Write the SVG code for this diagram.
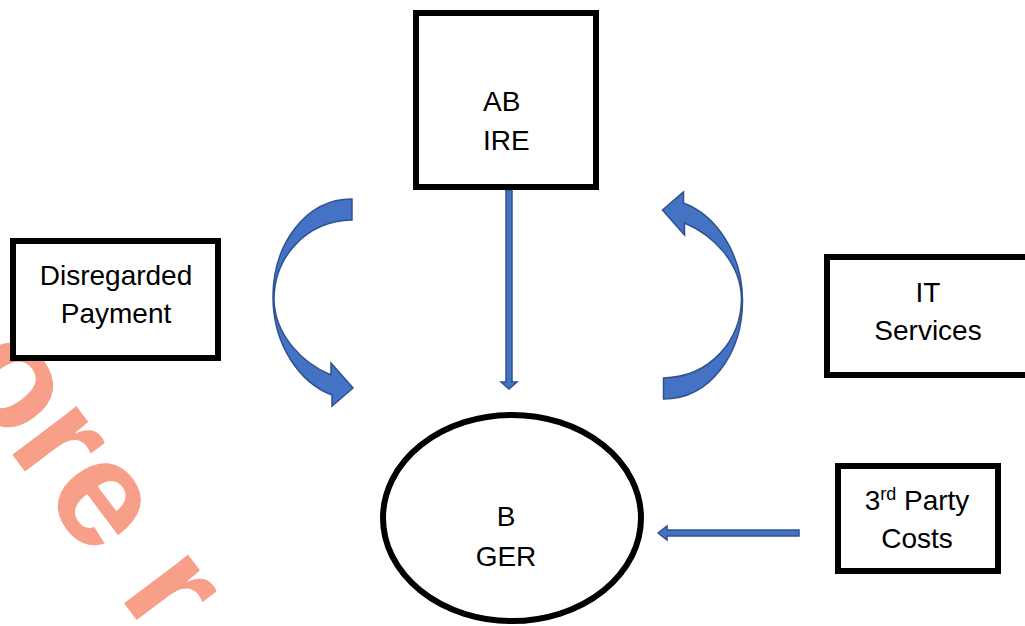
<svg xmlns="http://www.w3.org/2000/svg" width="1025" height="626" viewBox="0 0 1025 626">
  <style>
    .box { fill: #ffffff; stroke: #000000; stroke-width: 6; }
    .lbl { font-family: "Liberation Sans", Arial, sans-serif; font-size: 28px; fill: #000000; }
    .flow { fill: #4472C4; stroke: #2F528F; stroke-width: 1.5; stroke-linejoin: miter; }
    .mark { font-family: "Liberation Sans", Arial, sans-serif; font-weight: bold; font-size: 152px; fill: #F7957C; opacity: 0.9; }
  </style>
  <defs>
    <!-- curved block arrow sweeping left, arrowhead pointing right -->
    <path id="curved" d="M352,199 C305,199 273,245 273,297 C273,345 300,383 332,395 L332,406 L353,388 L331,363 L331,375 C302,363 275,335 274,300 C274,258 305,221 352,220 Z"/>
  </defs>

  <rect width="1025" height="626" fill="#ffffff"/>

  <!-- background watermark -->
  <text class="mark" transform="translate(-50,372) rotate(53)">ore r</text>

  <g id="connectors">
    <use href="#curved" class="flow"/>
    <use href="#curved" class="flow" transform="rotate(180 507.75 299)"/>
    <path class="flow" d="M506,190 L512,190 L512,382 L517,382 L509,389 L501,382 L506,382 Z"/>
    <path class="flow" d="M799,530 L799,536 L667,536 L667,540 L658,533 L667,526 L667,530 Z"/>
  </g>

  <g id="ab-ire">
    <rect class="box" x="416" y="13" width="180" height="174"/>
    <text class="lbl" x="483" y="111">AB</text>
    <text class="lbl" x="483" y="150">IRE</text>
  </g>

  <g id="b-ger">
    <ellipse class="box" cx="512" cy="518" rx="129" ry="103"/>
    <text class="lbl" x="506" y="526" text-anchor="middle">B</text>
    <text class="lbl" x="506" y="566" text-anchor="middle">GER</text>
  </g>

  <g id="disregarded-payment">
    <rect class="box" x="13" y="241" width="205" height="117"/>
    <text class="lbl" x="116" y="285" text-anchor="middle">Disregarded</text>
    <text class="lbl" x="116" y="323" text-anchor="middle">Payment</text>
  </g>

  <g id="it-services">
    <rect class="box" x="827" y="257" width="210" height="118"/>
    <text class="lbl" x="928" y="302" text-anchor="middle">IT</text>
    <text class="lbl" x="928" y="340" text-anchor="middle">Services</text>
  </g>

  <g id="third-party-costs">
    <rect class="box" x="838" y="466" width="160" height="105"/>
    <text class="lbl" x="917" y="510" text-anchor="middle">3<tspan font-size="18px" dy="-10">rd</tspan><tspan dy="10"> Party</tspan></text>
    <text class="lbl" x="917" y="548" text-anchor="middle">Costs</text>
  </g>
</svg>
